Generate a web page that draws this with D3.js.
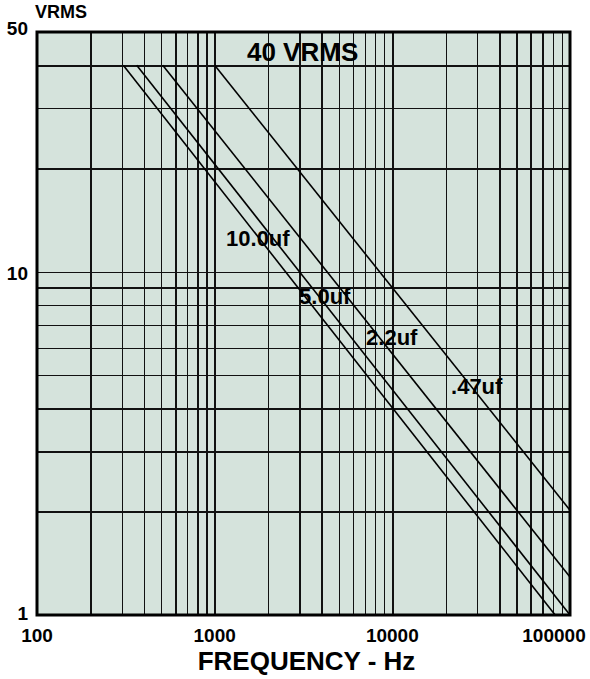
<!DOCTYPE html>
<html>
<head>
  <meta charset="utf-8">
  <title>VRMS vs frequency</title>
<style>
body { margin: 0; background: white; }
text {
  font-family: "Liberation Sans", Arial, Helvetica, sans-serif;
  font-weight: bold;
  fill: black;
}
.grid line { stroke: #111; stroke-width: 1.5; shape-rendering: crispEdges; }
.grid path { display: none; }
.frame { fill: none; stroke: black; stroke-width: 3; }
.curve { fill: none; stroke: black; stroke-width: 1.6; }
.tick-label { font-size: 19px; }
.curve-label { font-size: 22px; }
</style>
</head>
<body>
<svg width="590" height="679"></svg>
<script src="https://cdnjs.cloudflare.com/ajax/libs/d3/7.8.5/d3.min.js"></script>
<script>
// capacitor lines: each starts on the 40 VRMS line and runs down to the edge
var capNames = ["10.0uf", "5.0uf", "2.2uf", ".47uf"];
var startFreq = [306, 364, 510, 1000];
var startVolt = [40, 40, 40, 40];
var endFreq = [82500, 100000, 100000, 100000];
var endVolt = [1, 1, 1.29, 2.02];
// where each label sits (freq, volts of its left baseline)
var labelFreq = [1159, 2985, 7115, 21400];
var labelVolt = [11.9, 8.07, 6.13, 4.41];

var xTickValues = [100, 1000, 10000, 100000];
var yTickValues = [1, 10, 50];
var xGrid = [200, 300, 400, 500, 600, 700, 800, 900, 1000,
             2000, 3000, 4000, 5000, 6000, 7000, 8000, 9000, 10000,
             20000, 30000, 40000, 50000, 60000, 70000, 80000, 90000];
var yGrid = [2, 3, 4, 5, 6, 7, 8, 9, 10, 20, 30, 40];
var limitVolt = 40;

var pArea = [37, 32, 570, 615];  // left, top, right, bottom

var x = d3.scaleLog().domain([100, 100000]).range([pArea[0], pArea[2]]);
var y = d3.scaleLog().domain([1, 50]).range([pArea[3], pArea[1]]);

var svg = d3.select("svg");
var g = svg.append("g");

g.append("rect")
  .attr("x", pArea[0])
  .attr("y", pArea[1])
  .attr("width", pArea[2] - pArea[0])
  .attr("height", pArea[3] - pArea[1])
  .style("fill", "#d5e3dc");

// grid via axes
g.append("g")
  .attr("class", "grid")
  .attr("transform", `translate(0,${pArea[3]})`)
  .call(d3.axisBottom(x).tickValues(xGrid).tickSize(-(pArea[3] - pArea[1])).tickFormat(""));
g.append("g")
  .attr("class", "grid")
  .attr("transform", `translate(${pArea[0]},0)`)
  .call(d3.axisLeft(y).tickValues(yGrid).tickSize(-(pArea[2] - pArea[0])).tickFormat(""));

// curves
var lines = capNames.map(function (n, i) {
  return [[startFreq[i], startVolt[i]], [endFreq[i], endVolt[i]]];
});
var line = d3.line()
  .x(function (d) { return x(d[0]); })
  .y(function (d) { return y(d[1]); });
g.selectAll(".curve")
  .data(lines)
  .enter().append("path")
  .attr("class", "curve")
  .attr("d", line);

g.selectAll(".curve-label")
  .data(capNames)
  .enter().append("text")
  .attr("class", "curve-label")
  .attr("x", function (d, i) { return x(labelFreq[i]); })
  .attr("y", function (d, i) { return y(labelVolt[i]); })
  .text(function (d) { return d; });

g.append("text")
  .attr("x", x(1520))
  .attr("y", y(limitVolt) - 4)
  .style("font-size", "26px")
  .text(limitVolt + " VRMS");

g.append("rect")
  .attr("class", "frame")
  .attr("x", pArea[0])
  .attr("y", pArea[1])
  .attr("width", pArea[2] - pArea[0])
  .attr("height", pArea[3] - pArea[1]);

// tick labels
g.selectAll(".xlab")
  .data(xTickValues)
  .enter().append("text")
  .attr("class", "tick-label")
  .attr("x", function (d) { return x(d) + (d === 100000 ? -16 : 0); })
  .attr("y", pArea[3] + 27)
  .attr("text-anchor", "middle")
  .text(function (d) { return d; });

var yOffset = { 1: 5, 10: 8, 50: 3 };
g.selectAll(".ylab")
  .data(yTickValues)
  .enter().append("text")
  .attr("class", "tick-label")
  .attr("x", pArea[0] - 9)
  .attr("y", function (d) { return y(d) + yOffset[d]; })
  .attr("text-anchor", "end")
  .text(function (d) { return d; });

g.append("text")
  .attr("x", 35)
  .attr("y", 18)
  .style("font-size", "18px")
  .text("VRMS");

g.append("text")
  .attr("x", (pArea[0] + pArea[2]) / 2 + 3)
  .attr("y", 670)
  .attr("text-anchor", "middle")
  .style("font-size", "26px")
  .text("FREQUENCY - Hz");
</script>
</body>
</html>
